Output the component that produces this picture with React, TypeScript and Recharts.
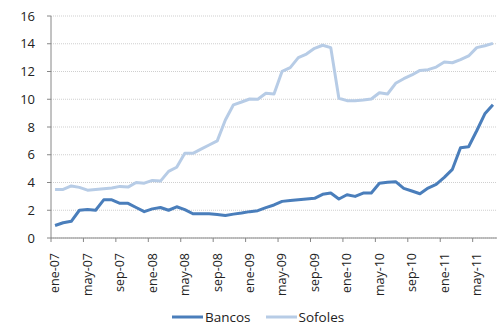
import { LineChart, Line, XAxis, YAxis, CartesianGrid, Legend } from 'recharts'

const MESES = [
  'ene-07', 'feb-07', 'mar-07', 'abr-07', 'may-07', 'jun-07', 'jul-07', 'ago-07', 'sep-07', 'oct-07', 'nov-07', 'dic-07',
  'ene-08', 'feb-08', 'mar-08', 'abr-08', 'may-08', 'jun-08', 'jul-08', 'ago-08', 'sep-08', 'oct-08', 'nov-08', 'dic-08',
  'ene-09', 'feb-09', 'mar-09', 'abr-09', 'may-09', 'jun-09', 'jul-09', 'ago-09', 'sep-09', 'oct-09', 'nov-09', 'dic-09',
  'ene-10', 'feb-10', 'mar-10', 'abr-10', 'may-10', 'jun-10', 'jul-10', 'ago-10', 'sep-10', 'oct-10', 'nov-10', 'dic-10',
  'ene-11', 'feb-11', 'mar-11', 'abr-11', 'may-11', 'jun-11', 'jul-11',
]

const BANCOS = [
  0.9, 1.1, 1.2, 2.0, 2.05, 2.0, 2.75, 2.75, 2.5, 2.5, 2.2, 1.9,
  2.1, 2.2, 2.0, 2.25, 2.05, 1.75, 1.75, 1.75, 1.7, 1.62, 1.72, 1.8,
  1.9, 1.97, 2.19, 2.38, 2.64, 2.71, 2.76, 2.81, 2.86, 3.15, 3.24, 2.81,
  3.12, 3.0, 3.24, 3.24, 3.94, 4.01, 4.06, 3.58, 3.39, 3.19, 3.6, 3.87,
  4.37, 4.95, 6.51, 6.58, 7.73, 8.95, 9.6,
]

const SOFOLES = [
  3.5, 3.5, 3.75, 3.65, 3.45, 3.5, 3.55, 3.6, 3.72, 3.67, 4.0, 3.95,
  4.15, 4.1, 4.8, 5.1, 6.1, 6.1, 6.4, 6.7, 7.0, 8.5, 9.6, 9.8,
  10.02, 10.0, 10.43, 10.38, 12.01, 12.28, 13.0, 13.26, 13.67, 13.89, 13.72, 10.07,
  9.9, 9.9, 9.95, 10.02, 10.47, 10.38, 11.15, 11.48, 11.75, 12.08, 12.13, 12.32,
  12.68, 12.63, 12.85, 13.12, 13.72, 13.86, 14.03,
]

const Y_TICKS = [0, 2, 4, 6, 8, 10, 12, 14, 16]

const COLORS = {
  bancos: '#4a7ebb',
  sofoles: '#b7cce6',
}

const FONT = '"Open Sans", "Noto Sans", sans-serif'
const AXIS = '#868686'
const TEXT = '#222'

const data = MESES.map((mes, i) => ({ mes, bancos: BANCOS[i], sofoles: SOFOLES[i] }))

// label centered on the month, tick mark on the boundary before it (like Excel)
function MonthTick(props: any) {
  const { x, y, payload } = props
  const half = payload?.offset ?? 4
  return (
    <g>
      <line x1={x - half} x2={x - half} y1={y - 15} y2={y - 11} stroke={AXIS} />
      <text
        x={x}
        y={y}
        transform={`rotate(-90, ${x}, ${y})`}
        textAnchor="end"
        dy="0.35em"
        fill={TEXT}
        fontSize={12.5}
        fontFamily={FONT}
      >
        {payload.value}
      </text>
    </g>
  )
}

function LegendContent(props: any) {
  const items = props.payload || []
  return (
    <div style={{ display: 'flex', alignItems: 'center', height: 16, fontFamily: FONT, fontSize: 13.5, color: TEXT }}>
      {items.map((it: any) => (
        <div key={it.value} style={{ display: 'flex', alignItems: 'center', marginRight: 15 }}>
          <svg width={31} height={4} style={{ display: 'block' }}>
            <line x1={0} x2={31} y1={2} y2={2} stroke={it.color} strokeWidth={3} />
          </svg>
          <span style={{ marginLeft: 2, lineHeight: '16px' }}>{it.value}</span>
        </div>
      ))}
    </div>
  )
}

export default function App() {
  return (
    <div style={{ position: 'absolute', left: 0, top: 0, background: '#fff', fontFamily: FONT }}>
      <LineChart width={499} height={325} data={data} margin={{ top: 16, right: 2, left: 0, bottom: 11 }}>
        <CartesianGrid vertical={false} stroke="#cfcfcf" strokeDasharray="1 1" />
        <XAxis
          dataKey="mes"
          scale="band"
          interval={3}
          height={60}
          tickSize={4}
          tickMargin={11}
          tickLine={{ stroke: 'none' }}
          axisLine={{ stroke: AXIS }}
          tick={<MonthTick />}
        />
        <YAxis
          domain={[0, 16]}
          ticks={Y_TICKS}
          width={51}
          tickSize={4}
          tickMargin={12}
          tickLine={{ stroke: AXIS }}
          axisLine={{ stroke: AXIS }}
          tick={{ fill: TEXT, fontSize: 13, fontFamily: FONT }}
          interval={0}
        />
        <Legend content={<LegendContent />} wrapperStyle={{ left: 172, bottom: 0, width: 'auto' }} />
        <Line
          type="linear"
          dataKey="bancos"
          name="Bancos"
          stroke={COLORS.bancos}
          strokeWidth={3}
          strokeLinejoin="round"
          dot={false}
          isAnimationActive={false}
        />
        <Line
          type="linear"
          dataKey="sofoles"
          name="Sofoles"
          stroke={COLORS.sofoles}
          strokeWidth={3}
          strokeLinejoin="round"
          dot={false}
          isAnimationActive={false}
        />
      </LineChart>
    </div>
  )
}
